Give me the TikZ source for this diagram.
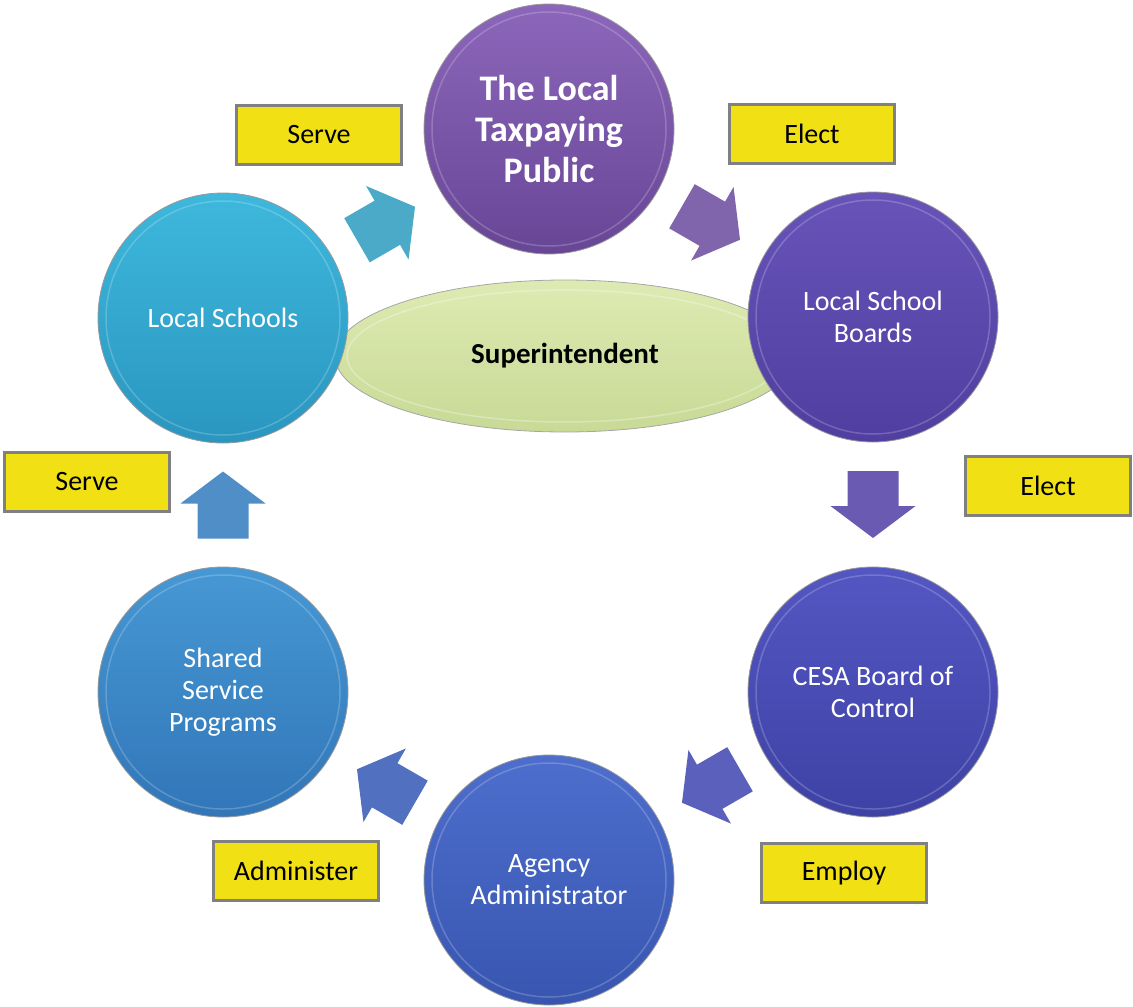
\documentclass[tikz,border=0pt]{standalone}
\usepackage{fontspec}
\setmainfont{Carlito}
\usetikzlibrary{shapes.geometric,calc}
\definecolor{labyellow}{RGB}{240,224,20}
\definecolor{labgray}{RGB}{128,128,128}
\definecolor{pubT}{RGB}{140,102,186}\definecolor{pubB}{RGB}{104,70,150}
\definecolor{lsbT}{RGB}{104,84,185}\definecolor{lsbB}{RGB}{80,62,160}
\definecolor{cesaT}{RGB}{84,86,194}\definecolor{cesaB}{RGB}{62,66,165}
\definecolor{agT}{RGB}{78,110,205}\definecolor{agB}{RGB}{56,86,176}
\definecolor{ssT}{RGB}{70,152,212}\definecolor{ssB}{RGB}{50,118,184}
\definecolor{lsT}{RGB}{62,184,220}\definecolor{lsB}{RGB}{42,150,192}
\definecolor{elT}{RGB}{222,234,178}\definecolor{elB}{RGB}{200,218,150}
\definecolor{arA}{RGB}{75,170,200}
\definecolor{arB}{RGB}{128,100,172}
\definecolor{arC}{RGB}{106,90,178}
\definecolor{arD}{RGB}{90,96,188}
\definecolor{arE}{RGB}{82,112,192}
\definecolor{arF}{RGB}{80,142,200}
\tikzset{
  orb/.style={circle, minimum size=250pt, inner sep=0pt, text=white, align=center,
    font=\fontsize{28}{32}\selectfont, draw=black!40, line width=0.8pt},
  lab/.style={draw=labgray, line width=3pt, fill=labyellow, minimum width=165pt,
    minimum height=59pt, inner sep=0pt, font=\fontsize{28}{32}\selectfont},
  barr/.pic={\fill[#1] (-33.5,-25.5) -- (1.5,-25.5) -- (1.5,-42.5) -- (33.5,0)
     -- (1.5,42.5) -- (1.5,25.5) -- (-33.5,25.5) -- cycle;},
  rim/.style={draw=white, opacity=0.2, line width=1.5pt}
}
\begin{document}
\begin{tikzpicture}[x=1pt,y=-1pt]
\useasboundingbox (0,0) rectangle (1133,1007);
% ellipse behind
\node[ellipse, minimum width=460pt, minimum height=152pt, inner sep=0pt,
  top color=elT, bottom color=elB, draw=black!35, line width=0.8pt,
  font=\bfseries\fontsize{29}{33}\selectfont] (sup) at (565,356) {Superintendent};
\draw[white, opacity=0.3, line width=1.5pt] (565,356) ellipse [x radius=218pt, y radius=66pt];
% circles
\node[orb, top color=pubT, bottom color=pubB, font=\bfseries\fontsize{36}{41}\selectfont]
  (pub) at (549,129) {The Local\\Taxpaying\\Public};
\node[orb, top color=lsbT, bottom color=lsbB] (lsb) at (873,317) {Local School\\Boards};
\node[orb, top color=cesaT, bottom color=cesaB] (cesa) at (873,692) {CESA Board of\\Control};
\node[orb, top color=agT, bottom color=agB] (ag) at (549,880) {Agency\\Administrator};
\node[orb, top color=ssT, bottom color=ssB] (ss) at (223,692) {Shared\\Service\\Programs};
\node[orb, top color=lsT, bottom color=lsB] (ls) at (223,318) {Local Schools};
\foreach \n in {pub,lsb,cesa,ag,ss,ls}{
  \draw[rim] (\n.center) circle [radius=117pt];
}
% block arrows
\pic[rotate=30] at ($(ls)!0.5!(pub)$) {barr=arA};
\pic[rotate=-30] at ($(pub)!0.5!(lsb)$) {barr=arB};
\pic[rotate=-90] at ($(lsb)!0.5!(cesa)$) {barr=arC};
\pic[rotate=210] at ($(cesa)!0.5!(ag)$) {barr=arD};
\pic[rotate=150] at ($(ag)!0.5!(ss)$) {barr=arE};
\pic[rotate=90] at ($(ss)!0.5!(ls)$) {barr=arF};
% labels
\node[lab] (l1) at (319,135) {Serve};
\node[lab] (l2) at (812,134) {Elect};
\node[lab] (l3) at (1048,486) {Elect};
\node[lab] (l4) at (844,873) {Employ};
\node[lab] (l5) at (296,871) {Administer};
\node[lab] (l6) at (87,482) {Serve};
\end{tikzpicture}
\end{document}
